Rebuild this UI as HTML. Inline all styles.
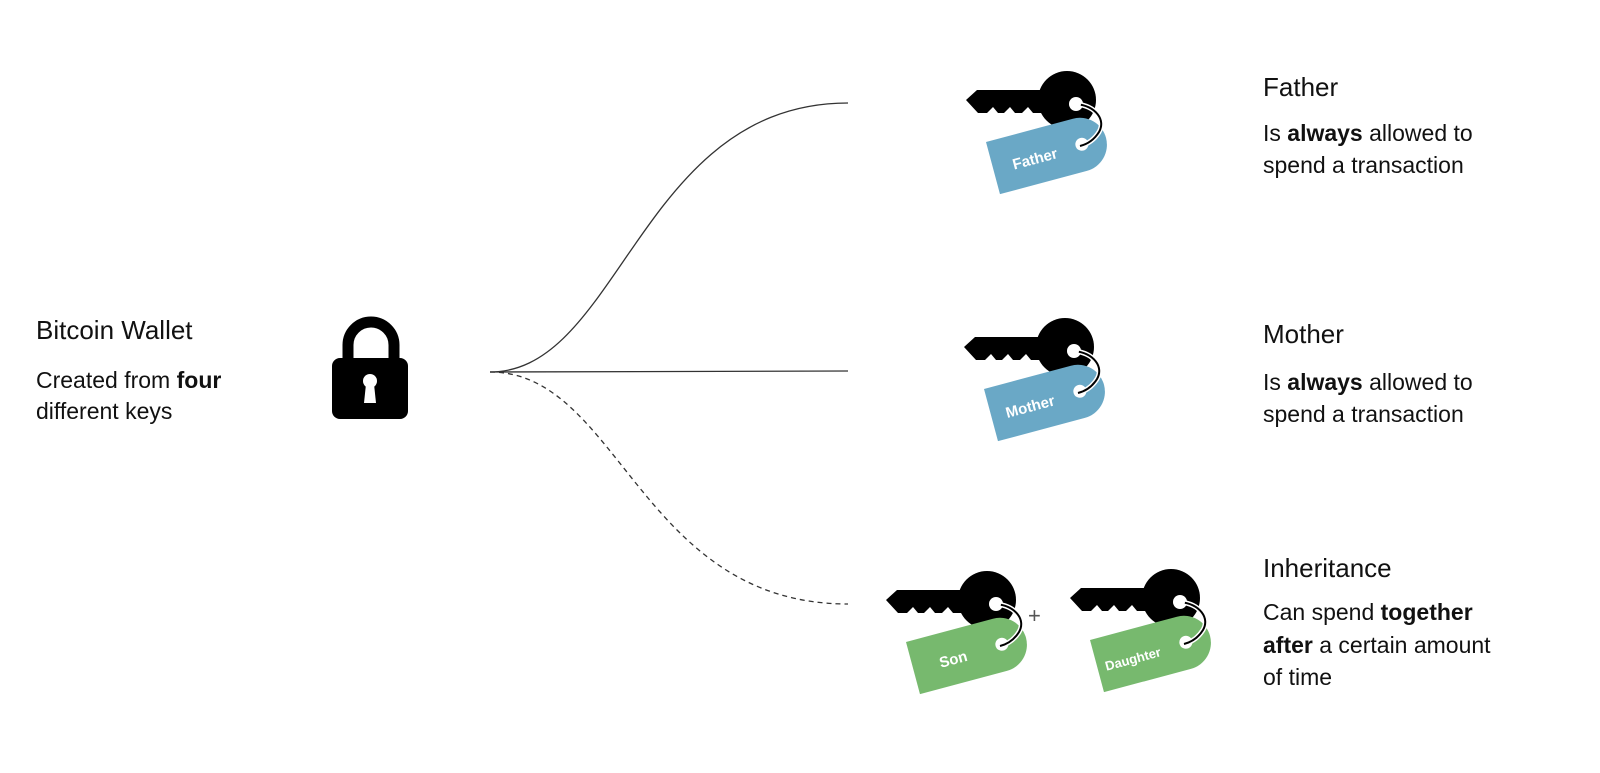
<!DOCTYPE html>
<html><head><meta charset="utf-8"><style>
html,body{margin:0;padding:0;background:#fff;}
svg{display:block;}
text{font-family:"Liberation Sans",sans-serif;fill:#111;}
.t{font-size:26px;}
.b{font-size:23px;}
.tg{font-size:15px;font-weight:bold;fill:#fff;}
</style></head><body>
<svg width="1600" height="773" viewBox="0 0 1600 773" xmlns="http://www.w3.org/2000/svg">
<defs>
<g id="keybase">
  <path d="M0,0 L11,-10 L80,-10 L80,13 L67,13 L62,7 L56,13 L49,13 L44,7 L38,13 L32,13 L27,7 L21,13 L12,13 Z" fill="#000"/>
  <circle cx="101" cy="0" r="29" fill="#000"/>
  <circle cx="110" cy="4" r="7" fill="#fff"/>
</g>
<g id="string">
  <path d="M110,4 C130,6 140,20 133,32 C128,40 122,44 114,46" fill="none" stroke="#fff" stroke-width="5"/>
  <path d="M110,4 C130,6 140,20 133,32 C128,40 122,44 114,46" fill="none" stroke="#000" stroke-width="2"/>
  <circle cx="110" cy="4" r="5" fill="#fff"/>
</g>
<path id="tag" d="M0,0 L90,0 A27,27 0 0 1 90,54 L0,54 Z"/>
</defs>

<path d="M490,372 C620,372 640,103 848,103" fill="none" stroke="#333" stroke-width="1.3"/>
<path d="M490,372 L848,371" fill="none" stroke="#333" stroke-width="1.3"/>
<path d="M490,372 C620,372 640,604 848,604" fill="none" stroke="#333" stroke-width="1.3" stroke-dasharray="5,4"/>

<path d="M348,362 L348,345 A23,23 0 0 1 394,345 L394,362" fill="none" stroke="#000" stroke-width="11"/>
<rect x="332" y="358" width="76" height="61" rx="8" fill="#000"/>
<circle cx="370" cy="381" r="7" fill="#fff"/>
<path d="M366,384 L374,384 L376,403 L364,403 Z" fill="#fff"/>

<g transform="translate(966,100)">
  <use href="#keybase"/>
  <g transform="translate(20,42) rotate(-15)"><use href="#tag" fill="#6aa8c6"/><circle cx="92" cy="27" r="6.5" fill="#fff"/><text class="tg" x="20" y="34">Father</text></g>
  <use href="#string"/>
</g>
<g transform="translate(964,347)">
  <use href="#keybase"/>
  <g transform="translate(20,42) rotate(-15)"><use href="#tag" fill="#6aa8c6"/><circle cx="92" cy="27" r="6.5" fill="#fff"/><text class="tg" x="15" y="34">Mother</text></g>
  <use href="#string"/>
</g>
<g transform="translate(886,600)">
  <use href="#keybase"/>
  <g transform="translate(20,42) rotate(-15)"><use href="#tag" fill="#77b96e"/><circle cx="92" cy="27" r="6.5" fill="#fff"/><text class="tg" x="27" y="34">Son</text></g>
  <use href="#string"/>
</g>
<g transform="translate(1070,598)">
  <use href="#keybase"/>
  <g transform="translate(20,42) rotate(-15)"><use href="#tag" fill="#77b96e"/><circle cx="92" cy="27" r="6.5" fill="#fff"/><text class="tg" x="8" y="34" style="font-size:13px">Daughter</text></g>
  <use href="#string"/>
</g>
<text x="1028" y="623" style="font-size:22px;fill:#555">+</text>

<text class="t" x="36" y="339">Bitcoin Wallet</text>
<text class="b" x="36" y="388">Created from <tspan font-weight="bold">four</tspan></text>
<text class="b" x="36" y="419">different keys</text>

<text class="t" x="1263" y="96">Father</text>
<text class="b" x="1263" y="141">Is <tspan font-weight="bold">always</tspan> allowed to</text>
<text class="b" x="1263" y="173">spend a transaction</text>

<text class="t" x="1263" y="343">Mother</text>
<text class="b" x="1263" y="390">Is <tspan font-weight="bold">always</tspan> allowed to</text>
<text class="b" x="1263" y="422">spend a transaction</text>

<text class="t" x="1263" y="577">Inheritance</text>
<text class="b" x="1263" y="620">Can spend <tspan font-weight="bold">together</tspan></text>
<text class="b" x="1263" y="653"><tspan font-weight="bold">after</tspan> a certain amount</text>
<text class="b" x="1263" y="685">of time</text>
</svg>
</body></html>
